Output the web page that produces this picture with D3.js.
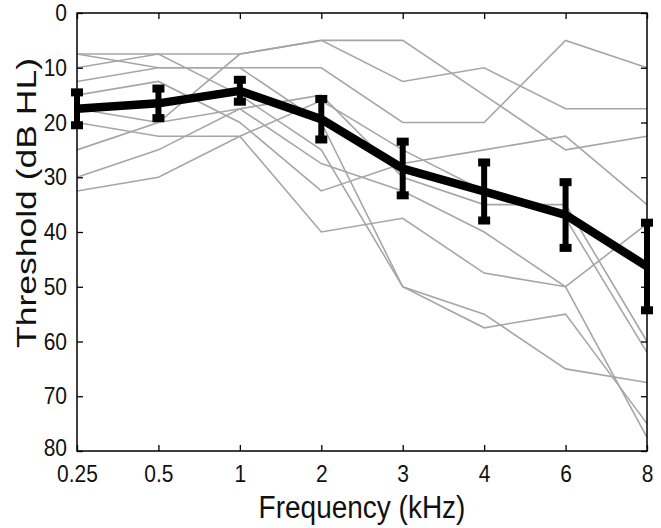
<!DOCTYPE html>
<html>
<head>
<meta charset="utf-8">
<script src="https://cdn.jsdelivr.net/npm/d3@7"></script>
<style>
  html, body { margin: 0; padding: 0; background: #fff; }
  svg { display: block; }
  text { font-family: "Liberation Sans", Arial, Helvetica, sans-serif; }
</style>
</head>
<body>
<svg id="chart" width="661" height="528"></svg>
<script>
// ---- data ----
const freqLabels = ["0.25", "0.5", "1", "2", "3", "4", "6", "8"];
const yTicks = [0, 10, 20, 30, 40, 50, 60, 70, 80];

const meanThreshold = [17.5, 16.5, 14.2, 19.4, 28.4, 32.6, 36.9, 46.3];
const errThreshold  = [3.0, 2.7, 2.0, 3.7, 4.9, 5.3, 6.0, 8.0];

const s01 = [7.5, 7.5, 7.5, 5, 5, 15, 25, 22.5];
const s02 = [25, 20, 7.5, 5, 12.5, 10, 17.5, 17.5];
const s03 = [7.5, 10, 10, 10, 20, 20, 5, 10];
const s04 = [10, 7.5, 15, 25, 50, 55, 65, 67.5];
const s05 = [12.5, 10, 10, 20, 50, 57.5, 55, 75];
const s06 = [15, 12.5, 20, 32.5, 27.5, 25, 22.5, 35];
const s07 = [20, 22.5, 22.5, 40, 37.5, 47.5, 50, 38.5];
const s08 = [30, 25, 17.5, 15, 30, 35, 35, 60];
const s09 = [32.5, 30, 22.5, 16, 25, 32.5, 37.5, 62];
const s10 = [17.5, 20, 17.5, 27.5, 32.5, 40, 50, 77.5];
const subjects = [s01, s02, s03, s04, s05, s06, s07, s08, s09, s10];

// ---- layout ----
const L = 77, R = 647, T = 13, B = 451;
const svg = d3.select("#chart");
svg.append("rect").attr("width", 661).attr("height", 528).attr("fill", "#fff");

const x = d3.scalePoint().domain(freqLabels).range([L, R]);
const y = d3.scaleLinear().domain([0, 80]).range([T, B]);

const line = d3.line()
  .x((d, i) => x(freqLabels[i]))
  .y(d => y(d));

// individual subjects
svg.append("g").selectAll("path")
  .data(subjects)
  .join("path")
  .attr("d", d => line(d))
  .attr("fill", "none")
  .attr("stroke", "#a6a6a6")
  .attr("stroke-width", 1.6);

// axes box with inward ticks
const fs = 21, stretch = 1.12, padB = 14;
const gB = svg.append("g").attr("transform", `translate(0,${B})`)
  .call(d3.axisBottom(x).tickSizeInner(-6).tickSizeOuter(0).tickPadding(padB));
const gL = svg.append("g").attr("transform", `translate(${L},0)`)
  .call(d3.axisLeft(y).tickValues(yTicks).tickSizeInner(-6).tickSizeOuter(0).tickPadding(10));
const gT = svg.append("g").attr("transform", `translate(0,${T})`)
  .call(d3.axisTop(x).tickSizeInner(-6).tickSizeOuter(0).tickFormat(""));
const gR = svg.append("g").attr("transform", `translate(${R},0)`)
  .call(d3.axisRight(y).tickValues(yTicks).tickSizeInner(-6).tickSizeOuter(0).tickFormat(""));
[gB, gL, gT, gR].forEach(g => {
  g.select(".domain").remove();
  g.selectAll(".tick line").attr("stroke", "#000").attr("stroke-width", 1.3);
  g.selectAll("text").attr("font-size", fs).attr("fill", "#111")
    .style("font-family", '"Liberation Sans", Arial, sans-serif');
});
gB.selectAll(".tick text").attr("transform", `translate(0,${padB}) scale(1,${stretch}) translate(0,${-padB})`);
gL.selectAll(".tick text").attr("transform", `scale(1,${stretch})`);
// keep the bottom-most y label clear of the x labels
gL.selectAll(".tick").filter(d => d === 80).select("text").attr("dy", "0.2em");

svg.append("rect")
  .attr("x", L).attr("y", T).attr("width", R - L).attr("height", B - T)
  .attr("fill", "none").attr("stroke", "#000").attr("stroke-width", 1.5);

// mean line
svg.append("path")
  .attr("d", line(meanThreshold))
  .attr("fill", "none")
  .attr("stroke", "#000")
  .attr("stroke-width", 8.5)
  .attr("stroke-linejoin", "miter");

// error bars
const eb = svg.append("g").selectAll("g")
  .data(meanThreshold.map((m, i) => ({ f: freqLabels[i], m, e: errThreshold[i] })))
  .join("g");
eb.append("line")
  .attr("x1", d => x(d.f)).attr("x2", d => x(d.f))
  .attr("y1", d => y(d.m - d.e)).attr("y2", d => y(d.m + d.e))
  .attr("stroke", "#000").attr("stroke-width", 6);
const capW = 12, capH = 8;
eb.append("rect")
  .attr("x", d => x(d.f) - capW / 2).attr("y", d => y(d.m - d.e) - capH / 2)
  .attr("width", capW).attr("height", capH).attr("fill", "#000");
eb.append("rect")
  .attr("x", d => x(d.f) - capW / 2).attr("y", d => y(d.m + d.e) - capH / 2)
  .attr("width", capW).attr("height", capH).attr("fill", "#000");

// axis titles
svg.append("text")
  .attr("transform", `translate(${(L + R) / 2},518) scale(1,1.1)`)
  .attr("text-anchor", "middle")
  .attr("font-size", 28).attr("fill", "#111")
  .text("Frequency (kHz)");
svg.append("text")
  .attr("transform", `translate(36,203) rotate(-90)`)
  .attr("text-anchor", "middle")
  .attr("font-size", 28).attr("fill", "#111")
  .attr("textLength", 290).attr("lengthAdjust", "spacingAndGlyphs")
  .text("Threshold (dB HL)");
</script>
</body>
</html>
